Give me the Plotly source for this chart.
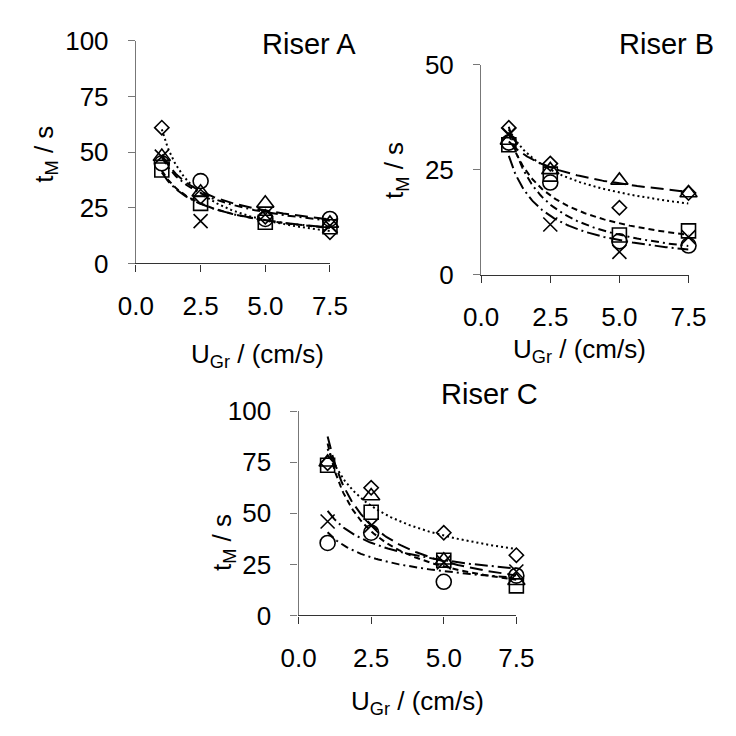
import numpy as np
import plotly.graph_objects as go

W = H = 736

# ---------------- data ----------------
ugr = [1.0, 2.5, 5.0, 7.5]
x_ticks = [0, 2.5, 5.0, 7.5]
x_tick_text = ["0.0", "2.5", "5.0", "7.5"]
y_ticks_100 = [0, 25, 50, 75, 100]
y_ticks_50 = [0, 25, 50]

series_names = ["Series 1", "Series 2", "Series 3", "Series 4", "Series 5"]

a_diamond = [61.0, 30.0, 21.0, 14.0]
a_square = [42.0, 27.0, 18.5, 16.5]
a_triangle = [48.0, 32.0, 27.0, 18.0]
a_cross = [48.0, 19.0, 22.0, 17.0]
a_circle = [45.0, 37.0, 20.0, 20.0]

b_diamond = [35.0, 26.5, 16.0, 19.5]
b_square = [31.0, 24.0, 9.5, 10.5]
b_triangle = [32.0, 25.0, 22.5, 19.5]
b_cross = [33.5, 12.0, 5.5, 9.0]
b_circle = [31.5, 22.0, 8.0, 7.0]

c_diamond = [74.5, 62.5, 40.5, 29.5]
c_square = [73.5, 50.5, 27.0, 14.5]
c_triangle = [75.0, 58.5, 27.0, 17.0]
c_cross = [46.0, 44.0, 26.0, 21.5]
c_circle = [35.5, 40.5, 16.5, 19.5]

# ---------------- styles ----------------
symbols = ["diamond-open", "square-open", "triangle-up-open", "x-thin-open", "circle-open"]
msizes = [11, 14, 15, 14, 15]
dashes = ["2px,3px", "6px,4px", "13px,6px", "13px,4px,2px,4px", "8px,4px,2px,4px"]

FONT = "Liberation Sans, Arial, sans-serif"


def px(x):
    return x / W


def py(y):
    return 1 - y / H


fig = go.Figure()

panels = [
    ("x", "y", [a_diamond, a_square, a_triangle, a_cross, a_circle]),
    ("x2", "y2", [b_diamond, b_square, b_triangle, b_cross, b_circle]),
    ("x3", "y3", [c_diamond, c_square, c_triangle, c_cross, c_circle]),
]

for xa, ya, data in panels:
    # power-law trend lines (fitted from data)
    for i, vals in enumerate(data):
        lx = np.log(np.array(ugr))
        ly = np.log(np.array(vals))
        b, lna = np.polyfit(lx, ly, 1)
        xf = np.linspace(min(ugr), max(ugr), 120)
        yf = np.exp(lna) * xf ** b
        fig.add_trace(go.Scatter(
            x=xf, y=yf, mode="lines", xaxis=xa, yaxis=ya,
            line=dict(color="black", width=2, dash=dashes[i]),
            showlegend=False, hoverinfo="skip", cliponaxis=False))
    for i, vals in enumerate(data):
        fig.add_trace(go.Scatter(
            x=ugr, y=vals, mode="markers", xaxis=xa, yaxis=ya,
            name=series_names[i],
            marker=dict(symbol=symbols[i], size=msizes[i], color="black",
                        line=dict(color="black", width=1.6)),
            showlegend=False, cliponaxis=False))

tickfont = dict(family=FONT, size=26, color="black")


def xaxis_cfg(x0, x1, anchor):
    return dict(domain=[px(x0), px(x1)], range=[0, 7.5], anchor=anchor,
                tickmode="array", tickvals=x_ticks, ticktext=x_tick_text,
                ticks="outside", ticklen=7, tickwidth=1.3, tickcolor="#333",
                showline=True, linecolor="#333", linewidth=1.3,
                showgrid=False, zeroline=False, tickfont=tickfont,
                ticklabelstandoff=12, fixedrange=True)


def yaxis_cfg(y_top, y_bot, rng, tv, anchor):
    return dict(domain=[py(y_bot), py(y_top)], range=rng, anchor=anchor,
                tickmode="array", tickvals=tv,
                ticks="outside", ticklen=7, tickwidth=1.3, tickcolor="#777",
                showline=True, linecolor="#777", linewidth=1.3,
                showgrid=False, zeroline=False, tickfont=tickfont,
                ticklabelstandoff=14, fixedrange=True)


annotations = []
title_font = dict(family=FONT, size=26, color="black")
panel_font = dict(family=FONT, size=29, color="black")

for txt, xr, yc in [("Riser A", 358, 30), ("Riser B", 734, 30), ("Riser C", 549, 395)]:
    annotations.append(dict(text=txt, x=px(xr), y=py(yc), xref="paper", yref="paper",
                            xanchor="right", yanchor="middle", showarrow=False, font=panel_font))

for xc, yc in [(252, 355), (590, 350), (420, 717)]:
    annotations.append(dict(text="U<sub>Gr</sub> / (cm/s)", x=px(xc), y=py(yc),
                            xref="paper", yref="paper", xanchor="center", yanchor="middle",
                            showarrow=False, font=title_font))

for xc, yc in [(28, 145), (397, 162), (216, 550)]:
    annotations.append(dict(text="t<sub>M</sub> / s", x=px(xc), y=py(yc), textangle=-90,
                            xref="paper", yref="paper", xanchor="center", yanchor="middle",
                            showarrow=False, font=title_font))

fig.update_layout(
    width=W, height=H,
    margin=dict(l=0, r=0, t=0, b=0),
    paper_bgcolor="white", plot_bgcolor="white",
    showlegend=False,
    xaxis=xaxis_cfg(124, 328, "y"),
    yaxis=yaxis_cfg(27, 259, [0, 100], y_ticks_100, "x"),
    xaxis2=xaxis_cfg(487, 705, "y2"),
    yaxis2=yaxis_cfg(52, 271, [0, 50], y_ticks_50, "x2"),
    xaxis3=xaxis_cfg(295, 524, "y3"),
    yaxis3=yaxis_cfg(413, 626, [0, 100], y_ticks_100, "x3"),
    annotations=annotations,
    font=dict(family=FONT, color="black"),
)

fig.write_html("out.html")
